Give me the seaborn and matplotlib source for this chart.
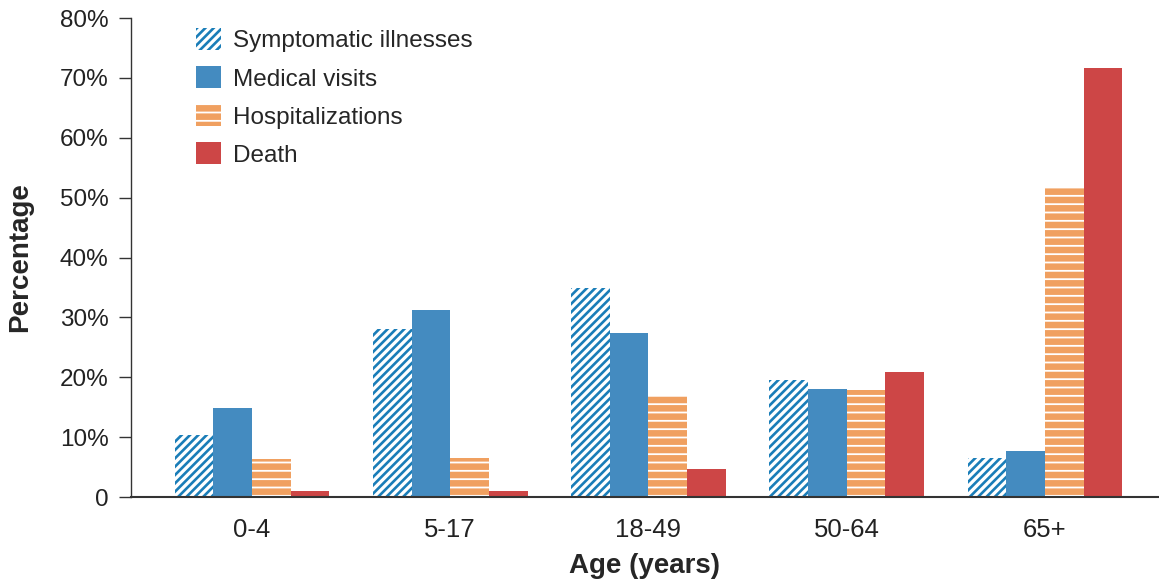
import matplotlib
matplotlib.use('Agg')
import matplotlib.pyplot as plt
import pandas as pd
import seaborn as sns

age_groups = ['0-4', '5-17', '18-49', '50-64', '65+']
measures = ['Symptomatic illnesses', 'Medical visits', 'Hospitalizations', 'Death']
symptomatic = [10.4, 28.0, 34.9, 19.5, 6.5]
medical_visits = [14.9, 31.2, 27.4, 18.0, 7.7]
hospitalizations = [6.3, 6.5, 16.9, 17.9, 51.8]
death = [1.0, 1.0, 4.7, 20.9, 71.6]
y_ticks = [0, 10, 20, 30, 40, 50, 60, 70, 80]
y_tick_labels = ['0', '10%', '20%', '30%', '40%', '50%', '60%', '70%', '80%']

BLUE_HATCH = '#1a7db8'
BLUE = '#448bc0'
ORANGE = '#f0a060'
RED = '#cd4646'

sns.set_style('white')
plt.rcParams['font.family'] = ['Liberation Sans', 'DejaVu Sans']
plt.rcParams['hatch.linewidth'] = 1.3

df = pd.DataFrame({
    'age': age_groups * 4,
    'measure': [m for m in measures for _ in age_groups],
    'pct': symptomatic + medical_visits + hospitalizations + death,
})

fig = plt.figure(figsize=(11.59, 5.79), dpi=100)
ax = fig.add_axes([0.113, 0.1416, 0.887, 0.8273])

sns.barplot(data=df, x='age', y='pct', hue='measure', hue_order=measures,
            order=age_groups, palette=[BLUE_HATCH, BLUE, ORANGE, RED],
            saturation=1, width=0.78, ax=ax, errorbar=None)

# hatched series: blue stripes on white, white lines on orange
styles = [
    dict(facecolor='white', edgecolor=BLUE_HATCH, hatch='////', hlw=1.9),
    dict(facecolor=BLUE, edgecolor=BLUE, hatch=None, hlw=None),
    dict(facecolor=ORANGE, edgecolor='white', hatch='--', hlw=1.3),
    dict(facecolor=RED, edgecolor=RED, hatch=None, hlw=None),
]


def apply_style(p, st):
    p.set_facecolor(st['facecolor'])
    p.set_edgecolor(st['edgecolor'])
    p.set_linewidth(0)
    if st['hatch']:
        p.set_hatch(st['hatch'])
        if hasattr(p, 'set_hatch_linewidth'):
            p.set_hatch_linewidth(st['hlw'])


for cont, st in zip(ax.containers, styles):
    for p in cont:
        apply_style(p, st)

ax.get_legend().remove()
leg = ax.legend(ax.containers, measures, loc='upper left',
                bbox_to_anchor=(0.063, 0.979), frameon=False, fontsize=17.5,
                handlelength=1.03, handleheight=1.03, handletextpad=0.5,
                labelspacing=0.56, borderpad=0, borderaxespad=0)
for h, st in zip(leg.get_patches(), styles):
    apply_style(h, st)

ax.set_ylim(0, 80)
ax.set_xlim(-0.61, 4.575)
ax.set_yticks(y_ticks)
ax.set_yticklabels(y_tick_labels)
ax.tick_params(axis='y', left=True, length=9, width=1, color='#333333',
               labelsize=17.5, pad=7, labelcolor='#222222')
ax.tick_params(axis='x', bottom=False, length=0, labelsize=18.5, pad=15,
               labelcolor='#222222')
sns.despine(ax=ax)
ax.spines['left'].set_color('#333333')
ax.spines['left'].set_linewidth(1)
ax.spines['bottom'].set_color('#333333')
ax.spines['bottom'].set_linewidth(1.5)

ax.set_xlabel('Age (years)', fontsize=20, fontweight='bold', labelpad=8)
ax.set_ylabel('Percentage', fontsize=20, fontweight='bold', labelpad=19)

fig.savefig('out.png', dpi=100)
